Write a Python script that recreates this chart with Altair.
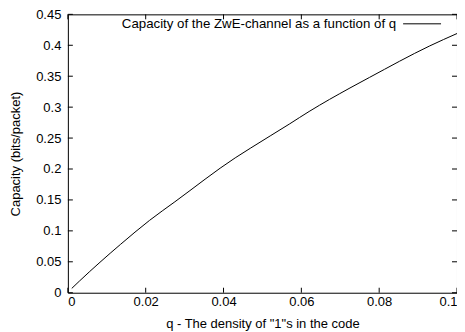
import altair as alt
import pandas as pd

# Curve
q_vals = [0.001, 0.003, 0.0135, 0.021, 0.0275, 0.043, 0.047, 0.057, 0.062, 0.0725, 0.0775, 0.093, 0.1]
c_vals = [0.007, 0.019, 0.078, 0.117, 0.147, 0.218, 0.234, 0.273, 0.293, 0.331, 0.348, 0.399, 0.419]

x_ticks = [0, 0.02, 0.04, 0.06, 0.08, 0.1]
y_ticks = [0, 0.05, 0.1, 0.15, 0.2, 0.25, 0.3, 0.35, 0.4, 0.45]

legend_label = "Capacity of the ZwE-channel as a function of q"
x_title = 'q - The density of "1"s in the code'
y_title = "Capacity (bits/packet)"

W, H = 390, 279
FONT = "Liberation Sans"
TICK = 5

curve = pd.DataFrame({"q": q_vals, "c": c_vals})
xt = pd.DataFrame({"q": x_ticks})
yt = pd.DataFrame({"c": y_ticks})

xscale = alt.Scale(domain=[0, 0.1], nice=False, zero=False)
yscale = alt.Scale(domain=[0, 0.45], nice=False, zero=False)

axis_style = dict(grid=False, domain=False, ticks=False, labelOverlap=False,
                  labelFont=FONT, labelFontSize=13, labelColor="black",
                  titleFont=FONT, titleFontSize=13, titleFontWeight="normal", titleColor="black")
x_axis = alt.Axis(values=x_ticks, format="~g", labelPadding=3, titlePadding=9, **axis_style)
y_axis = alt.Axis(values=y_ticks, format="~g", labelPadding=7, titlePadding=13, **axis_style)

def X(field):
    return alt.X(field, scale=xscale, title=x_title, axis=x_axis)

def Y(field):
    return alt.Y(field, scale=yscale, title=y_title, axis=y_axis)

line = alt.Chart(curve).mark_line(color="black", strokeWidth=1, interpolate="monotone").encode(
    x=X("q:Q"), y=Y("c:Q"))

tick_style = dict(color="black", strokeWidth=1)
bottom_ticks = alt.Chart(xt).mark_rule(**tick_style).encode(
    x=X("q:Q"), y=alt.value(H), y2=alt.value(H - TICK))
top_ticks = alt.Chart(xt).mark_rule(**tick_style).encode(
    x=X("q:Q"), y=alt.value(0), y2=alt.value(TICK))
left_ticks = alt.Chart(yt).mark_rule(**tick_style).encode(
    y=Y("c:Q"), x=alt.value(0), x2=alt.value(TICK))
right_ticks = alt.Chart(yt).mark_rule(**tick_style).encode(
    y=Y("c:Q"), x=alt.value(W - TICK), x2=alt.value(W))

leg_df = pd.DataFrame({"label": [legend_label]})
leg_text = alt.Chart(leg_df).mark_text(align="right", baseline="middle", font=FONT,
                                        fontSize=13.3, color="black").encode(
    x=alt.value(329), y=alt.value(10), text="label:N")
leg_line = alt.Chart(leg_df).mark_rule(color="black", strokeWidth=1).encode(
    x=alt.value(336), x2=alt.value(374), y=alt.value(9.5))

chart = alt.layer(line, bottom_ticks, top_ticks, left_ticks, right_ticks, leg_text, leg_line).properties(
    width=W, height=H,
    background="white",
    autosize=alt.AutoSizeParams(type="none"),
    padding={"left": 60, "top": 6, "right": 0, "bottom": 40},
).configure_view(
    stroke="black", strokeWidth=1
)

chart.save("out.html", embed_options={"renderer": "svg", "actions": False})
